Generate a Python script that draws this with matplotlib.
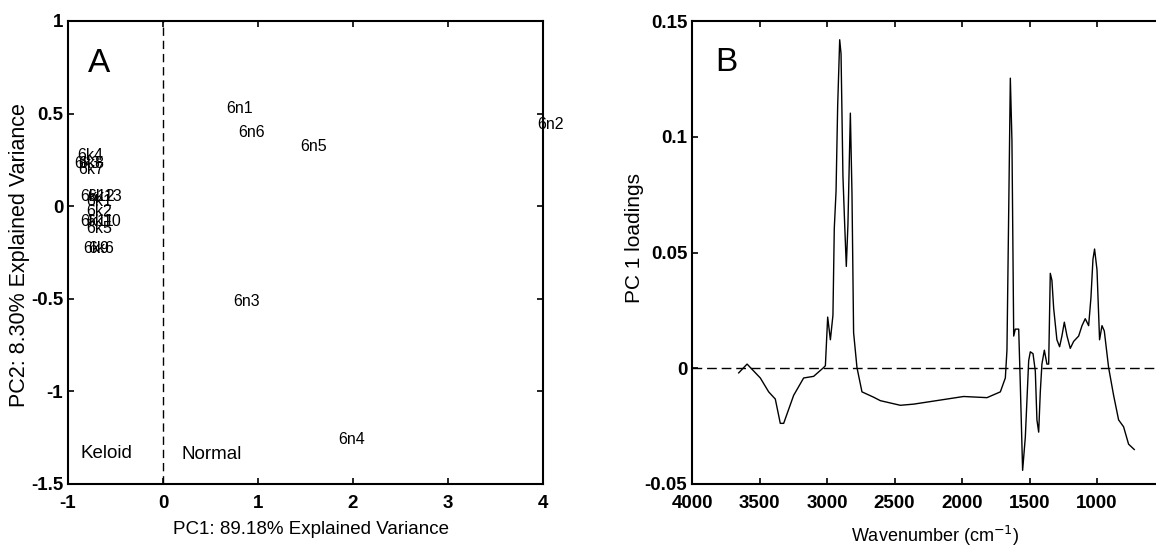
import matplotlib
matplotlib.use("Agg")
import matplotlib.pyplot as plt

plt.rcParams['font.family'] = ['Liberation Sans', 'DejaVu Sans']

# ---- Panel A data (PCA scores) ----
normal_names = ['6n1', '6n6', '6n5', '6n2', '6n3', '6n4']
normal_pc1 = [0.667, 0.79, 1.44, 3.94, 0.74, 1.845]
normal_pc2 = [0.525, 0.40, 0.325, 0.442, -0.517, -1.262]

keloid_names = ['6k4', '6k3', '6k8', '6k7', '6k12', '6k13', '6k1', '6k2',
                '6k11', '6k10', '6k5', '6k9', '6k6']
keloid_pc1 = [-0.90, -0.937, -0.895, -0.895, -0.873, -0.80, -0.81, -0.81,
              -0.873, -0.81, -0.81, -0.84, -0.79]
keloid_pc2 = [0.275, 0.23, 0.23, 0.20, 0.05, 0.05, 0.023, -0.03,
              -0.085, -0.085, -0.12, -0.227, -0.227]

# ---- Panel B data (PC1 loadings spectrum) ----
wavenumber = [3654, 3592, 3494, 3432, 3383, 3346, 3321, 3247, 3173, 3099, 3025,
              3012, 2995, 2975, 2956, 2946, 2933, 2921, 2906, 2896, 2882, 2869,
              2857, 2845, 2827, 2815, 2803, 2778, 2741, 2655, 2605, 2457, 2358,
              2111, 1988, 1815, 1716, 1679, 1667, 1654, 1642, 1630, 1617, 1605,
              1580, 1568, 1551, 1531, 1506, 1494, 1474, 1457, 1445, 1432, 1420,
              1408, 1390, 1371, 1358, 1346, 1334, 1321, 1297, 1277, 1260, 1242,
              1222, 1198, 1173, 1136, 1111, 1087, 1062, 1045, 1030, 1018, 1000,
              981, 963, 946, 914, 877, 840, 803, 766, 724]
loading = [-0.0020, 0.0018, -0.0042, -0.0102, -0.0133, -0.0238, -0.0238,
           -0.0117, -0.0042, -0.0035, 0.0003, 0.0011, 0.0221, 0.0123, 0.0229,
           0.0605, 0.0764, 0.1133, 0.1419, 0.1358, 0.0831, 0.0620, 0.0440,
           0.0620, 0.1102, 0.0756, 0.0154, 0.0003, -0.0102, -0.0125, -0.0140,
           -0.0160, -0.0155, -0.0133, -0.0122, -0.0127, -0.0102, -0.0042,
           0.0078, 0.0681, 0.1253, 0.0982, 0.0139, 0.0169, 0.0169, -0.0072,
           -0.0441, -0.0298, 0.0033, 0.0071, 0.0063, -0.0012, -0.0223, -0.0276,
           -0.0102, 0.0018, 0.0078, 0.0018, 0.0018, 0.0410, 0.0380, 0.0259,
           0.0123, 0.0093, 0.0139, 0.0199, 0.0139, 0.0086, 0.0116, 0.0139,
           0.0184, 0.0214, 0.0184, 0.0304, 0.0470, 0.0515, 0.0425, 0.0123,
           0.0184, 0.0161, 0.0003, -0.0117, -0.0223, -0.0253, -0.0328, -0.0351]

W, H = 1156, 547
fig = plt.figure(figsize=(W / 100, H / 100), dpi=100)

def pos(x0, x1, y0, y1):
    return [x0 / W, 1 - y1 / H, (x1 - x0) / W, (y1 - y0) / H]

def style(ax):
    ax.tick_params(direction='in', top=True, right=True, length=4.5, width=1.2)
    ax.tick_params(axis='x', pad=8)
    ax.tick_params(axis='y', pad=3.5)
    for lab in ax.get_xticklabels() + ax.get_yticklabels():
        lab.set_fontsize(13.5)
        lab.set_fontweight('bold')
    for s in ax.spines.values():
        s.set_linewidth(1.5)

# Panel A
axA = fig.add_axes(pos(68, 543, 21, 484))
axA.set_xlim(-1, 4)
axA.set_ylim(-1.5, 1)
axA.set_xticks([-1, 0, 1, 2, 3, 4])
axA.set_xticklabels(['-1', '0', '1', '2', '3', '4'])
axA.set_yticks([-1.5, -1, -0.5, 0, 0.5, 1])
axA.set_yticklabels(['-1.5', '-1', '-0.5', '0', '0.5', '1'])
axA.axvline(0, color='black', linestyle=(0, (6, 3.5)), linewidth=1)
for n, x, y in zip(normal_names, normal_pc1, normal_pc2):
    axA.text(x, y, n, fontsize=11.5, ha='left', va='center')
for n, x, y in zip(keloid_names, keloid_pc1, keloid_pc2):
    axA.text(x, y, n, fontsize=11.5, ha='left', va='center')
axA.text(-0.87, -1.333, 'Keloid', fontsize=13.5, ha='left', va='center')
axA.text(0.19, -1.34, 'Normal', fontsize=13.5, ha='left', va='center')
axA.text(-0.79, 0.77, 'A', fontsize=24, ha='left', va='center')
axA.set_xlabel('PC1: 89.18% Explained Variance', fontsize=13.5)
axA.xaxis.set_label_coords(0.512, -(530 - 484) / 463, transform=axA.transAxes)
axA.xaxis.label.set_va('center')
axA.set_ylabel('PC2: 8.30% Explained Variance', fontsize=15.5)
axA.yaxis.set_label_coords((19.5 - 68) / 475, 0.495, transform=axA.transAxes)
axA.yaxis.label.set_va('center')
style(axA)

# Panel B
axB = fig.add_axes(pos(692, 1164.5, 21, 484))
axB.set_xlim(4000, 500)
axB.set_ylim(-0.05, 0.15)
axB.set_xticks([4000, 3500, 3000, 2500, 2000, 1500, 1000])
axB.set_yticks([-0.05, 0, 0.05, 0.1, 0.15])
axB.set_yticklabels(['-0.05', '0', '0.05', '0.1', '0.15'])
axB.axhline(0, color='black', linestyle=(0, (7, 3.5)), linewidth=1)
axB.plot(wavenumber, loading, color='black', linewidth=1)
axB.text(3830, 0.132, 'B', fontsize=24, ha='left', va='center')
axB.set_xlabel('Wavenumber (cm$^{-1}$)', fontsize=13)
axB.xaxis.set_label_coords((935 - 692) / 472.5, -(536 - 484) / 463,
                           transform=axB.transAxes)
axB.xaxis.label.set_va('center')
axB.set_ylabel('PC 1 loadings', fontsize=15)
axB.yaxis.set_label_coords((635 - 692) / 472.5, (484 - 238) / 463,
                           transform=axB.transAxes)
axB.yaxis.label.set_va('center')
style(axB)

fig.savefig('out.png', dpi=100)
